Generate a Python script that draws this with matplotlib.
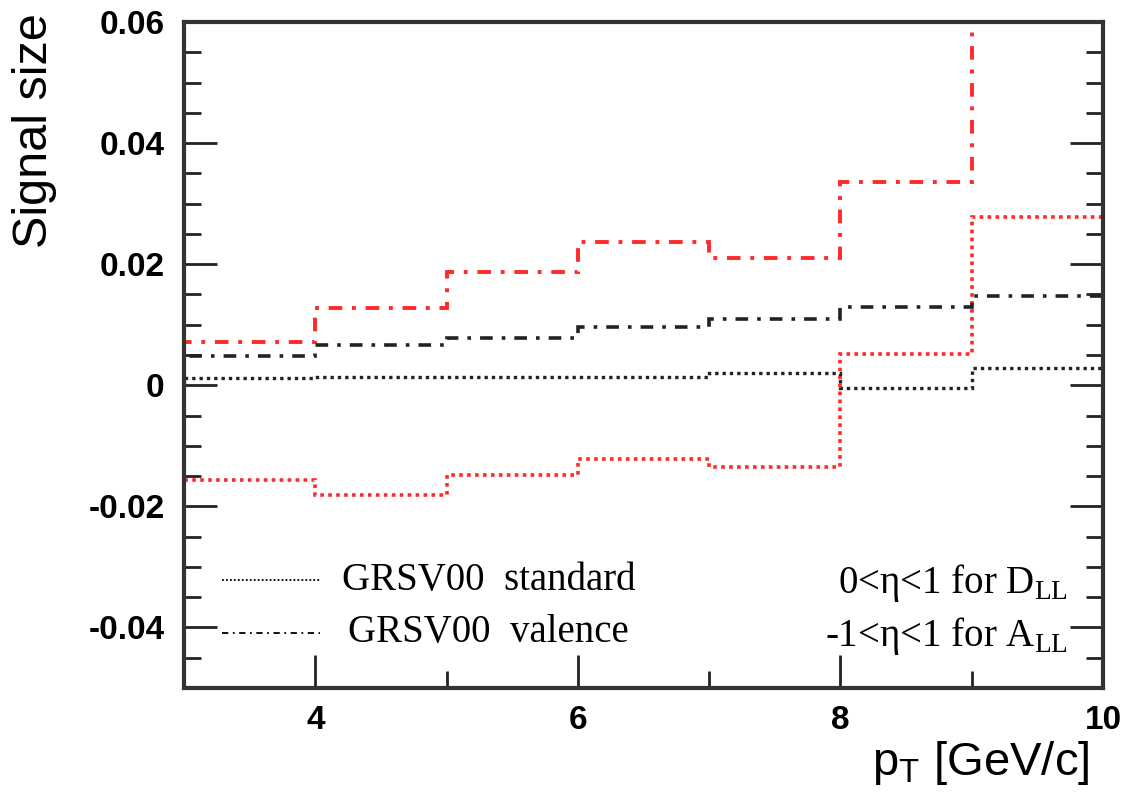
import numpy as np
import matplotlib
matplotlib.use("Agg")
import matplotlib.pyplot as plt
from matplotlib.ticker import MultipleLocator
from matplotlib.lines import Line2D

# bin edges in pT [GeV/c]
edges = [3, 4, 5, 6, 7, 8, 9, 10]

# GRSV00 standard (black dotted)
std_black = [0.0012, 0.0014, 0.0014, 0.0014, 0.0020, -0.0005, 0.0028]
# GRSV00 valence (black dash-dot)
val_black = [0.0048, 0.0066, 0.0078, 0.0096, 0.0109, 0.0129, 0.0148]
# red dotted
std_red = [-0.0157, -0.0181, -0.0149, -0.0122, -0.0135, 0.0051, 0.0278]
# red dash-dot (last bin goes off the top)
val_red = [0.0072, 0.0127, 0.0187, 0.0237, 0.0211, 0.0336, 0.075]

fig = plt.figure(figsize=(11.26, 8), dpi=100)
ax = fig.add_axes([0.1634, 0.14, 0.8162, 0.8325])

dot = (0, (1, 1.2))
dashdot = (0, (3.5, 2.5, 1, 2.5))

ax.stairs(std_red, edges, baseline=0, color="#ff2a2a", lw=2.6, ls=dot)
ax.stairs(val_red, edges, baseline=0, color="#ff2a2a", lw=2.8, ls=dashdot)
ax.stairs(std_black, edges, baseline=0, color="#222222", lw=2.4, ls=dot)
ax.stairs(val_black, edges, baseline=0, color="#222222", lw=2.6, ls=dashdot)

ax.set_xlim(3, 10)
ax.set_ylim(-0.05, 0.06)

ax.xaxis.set_major_locator(MultipleLocator(2))
ax.xaxis.set_minor_locator(MultipleLocator(1))
ax.yaxis.set_major_locator(MultipleLocator(0.02))
ax.yaxis.set_minor_locator(MultipleLocator(0.005))
ax.tick_params(which="both", direction="in", left=True, right=True, top=False,
               bottom=True, width=2, color="#222222")
ax.tick_params(which="major", length=24)
ax.tick_params(which="minor", length=12)
ax.tick_params(axis="y", pad=14)
ax.tick_params(axis="x", pad=12)

ax.set_yticks([-0.04, -0.02, 0, 0.02, 0.04, 0.06])
ax.set_yticklabels(["-0.04", "-0.02", "0", "0.02", "0.04", "0.06"])
for lab in ax.get_xticklabels() + ax.get_yticklabels():
    lab.set_fontfamily("Liberation Sans")
    lab.set_fontweight("bold")
    lab.set_fontsize(24)

for sp in ax.spines.values():
    sp.set_linewidth(3)
    sp.set_color("#333333")

fig.text(0.031, 0.984, "Signal size", rotation=90, ha="center", va="top",
         fontsize=35, family="Liberation Sans")
fig.text(0.968, 0.016, r"p$_\mathregular{T}$ [GeV/c]", ha="right", va="bottom",
         fontsize=34, family="Liberation Sans")

# legend drawn by hand in axes coords
for yy, ls, x0, txt in [(0.162, dot, 0.172, "GRSV00  standard"),
                        (0.083, dashdot, 0.178, "GRSV00  valence")]:
    ax.add_line(Line2D([0.041, 0.148], [yy, yy], transform=ax.transAxes,
                       color="black", lw=1.3, ls=ls))
    ax.text(x0, yy, txt, transform=ax.transAxes,
            family="Liberation Serif", fontsize=28, va="center")

ax.text(0.962, 0.158, r"0<$\mathregular{\eta}$<1 for D$_\mathregular{LL}$",
        transform=ax.transAxes, ha="right", va="center",
        family="Liberation Serif", fontsize=28)
ax.text(0.962, 0.078, r"-1<$\mathregular{\eta}$<1 for A$_\mathregular{LL}$",
        transform=ax.transAxes, ha="right", va="center",
        family="Liberation Serif", fontsize=28)

fig.savefig("out.png", dpi=100)
